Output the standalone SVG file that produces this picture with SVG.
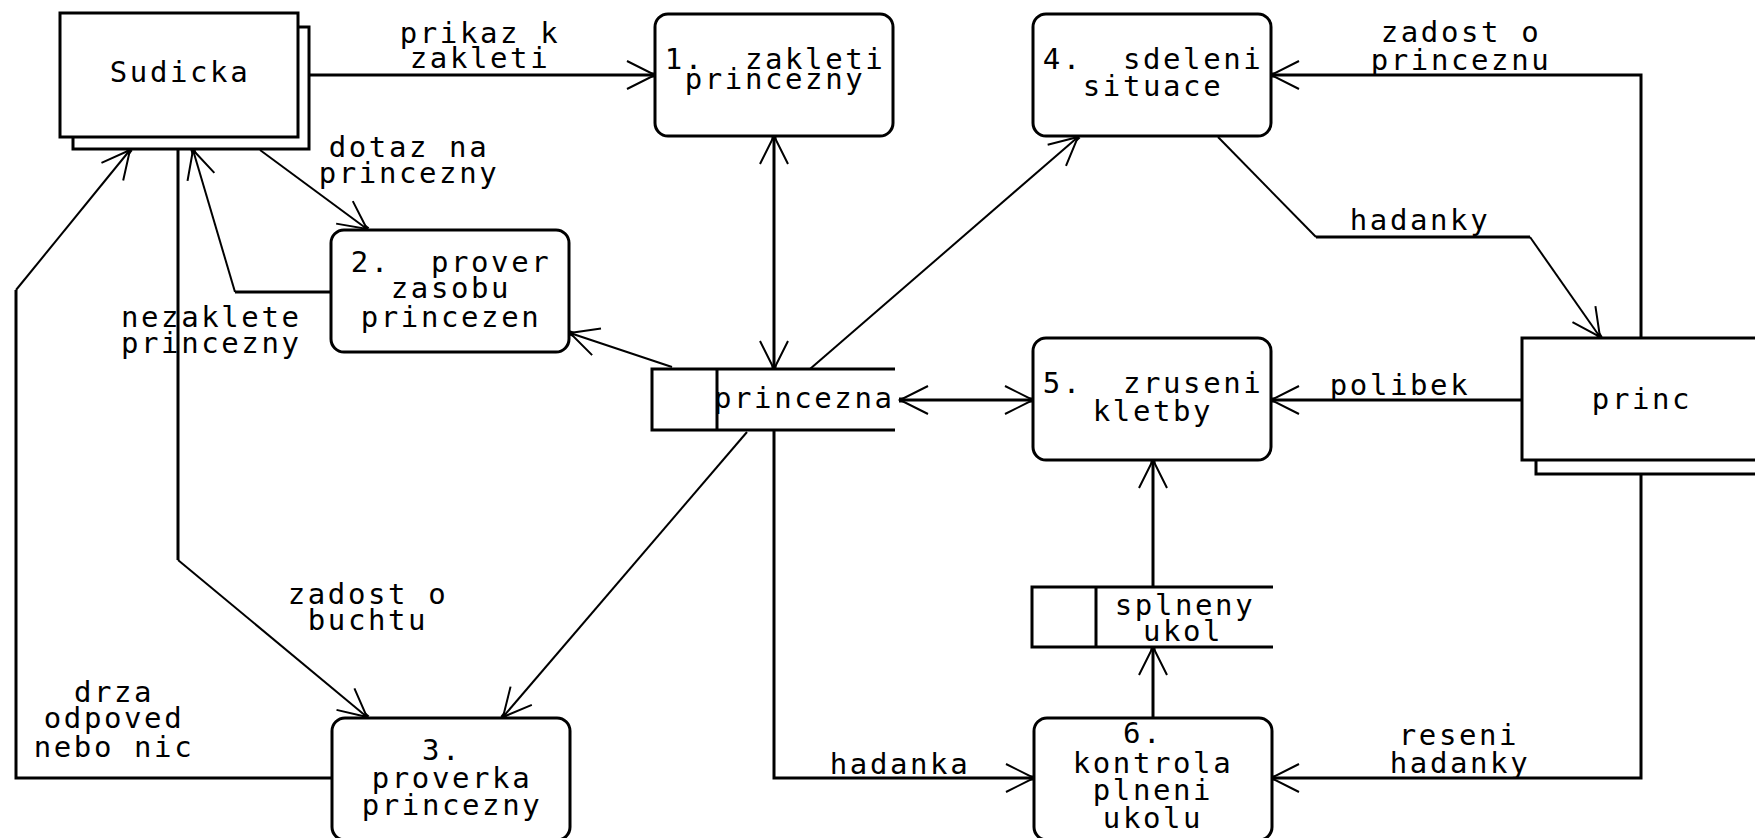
<svg xmlns="http://www.w3.org/2000/svg" width="1755" height="838" viewBox="0 0 1755 838">
  <defs>
    <style>
      .box { fill: #fff; stroke: #000; stroke-width: 3; }
      .ln { fill: none; stroke: #000; stroke-width: 3; }
      .dg { fill: none; stroke: #000; stroke-width: 2; }
      .st { fill: none; stroke: #000; stroke-width: 3; }
      text { font-family: "DejaVu Sans Mono", "Liberation Mono", monospace; font-size: 29px; letter-spacing: 2.6px; fill: #000; }
      .c { text-anchor: middle; }
      .a { marker-end: url(#arr); }
      .b { marker-start: url(#arr); marker-end: url(#arr); }
    </style>
    <!-- open chevron arrowhead with a heavy tip -->
    <marker id="arr" markerUnits="userSpaceOnUse" orient="auto-start-reverse" markerWidth="40" markerHeight="40" refX="0" refY="0" viewBox="-30 -20 40 40" overflow="visible">
      <path d="M-28,-14 L0,0 L-28,14" fill="none" stroke="#000" stroke-width="2"/>
      <rect x="-4" y="-2.5" width="5" height="5" fill="#000"/>
    </marker>
  </defs>

  <rect width="1755" height="838" fill="#fff"/>

  <!-- data flows -->
  <g id="connectors">
    <path class="ln a" d="M309,75 H655"/>
    <path class="dg a" d="M260,150 L367,229"/>
    <path class="ln" d="M331,292 H235"/>
    <path class="dg a" d="M235,292 L193,150"/>
    <path class="ln" d="M178,149 V560"/>
    <path class="dg a" d="M178,560 L367,717"/>
    <path class="ln" d="M332,778 H16 V290"/>
    <path class="dg a" d="M16,290 L130,150"/>
    <path class="ln b" d="M774,136 V369"/>
    <path class="dg a" d="M810,369 L1078,137"/>
    <path class="dg a" d="M672,367 L570,333"/>
    <path class="dg a" d="M747,432 L503,717"/>
    <path class="ln b" d="M900,400 H1033"/>
    <path class="ln a" d="M774,430 V778 H1034"/>
    <path class="ln a" d="M1641,338 V75 H1271"/>
    <path class="dg" d="M1218,137 L1316,237"/>
    <path class="ln" d="M1316,237 H1530"/>
    <path class="dg a" d="M1530,237 L1600,337"/>
    <path class="ln a" d="M1522,400 H1271"/>
    <path class="ln a" d="M1641,474 V778 H1271"/>
    <path class="ln a" d="M1153,718 V647"/>
    <path class="ln a" d="M1153,587 V460"/>
  </g>

  <!-- flow labels -->
  <g id="labels">
    <text class="c" x="480" y="43" xml:space="preserve">prikaz k</text>
    <text class="c" x="480" y="68">zakleti</text>
    <text class="c" x="409" y="157" xml:space="preserve">dotaz na</text>
    <text class="c" x="409" y="183">princezny</text>
    <text x="121" y="327">nezaklete</text>
    <text x="121" y="353">princezny</text>
    <text class="c" x="368" y="604" xml:space="preserve">zadost o</text>
    <text class="c" x="368" y="630">buchtu</text>
    <text class="c" x="114" y="702">drza</text>
    <text class="c" x="114" y="728">odpoved</text>
    <text class="c" x="114" y="757" xml:space="preserve">nebo nic</text>
    <text class="c" x="900" y="774">hadanka</text>
    <text class="c" x="1461" y="42" xml:space="preserve">zadost o</text>
    <text class="c" x="1461" y="70">princeznu</text>
    <text class="c" x="1420" y="230">hadanky</text>
    <text class="c" x="1400" y="395">polibek</text>
    <text class="c" x="1459" y="745">reseni</text>
    <text class="c" x="1460" y="773">hadanky</text>
  </g>

  <!-- external entity: Sudicka -->
  <g id="sudicka">
    <rect class="box" x="73" y="27" width="236" height="122"/>
    <rect class="box" x="60" y="13" width="238" height="124"/>
    <text class="c" x="180" y="82">Sudicka</text>
  </g>

  <!-- external entity: princ -->
  <g id="princ">
    <rect class="box" x="1536" y="352" width="238" height="122"/>
    <rect class="box" x="1522" y="338" width="238" height="122"/>
    <text class="c" x="1642" y="409">princ</text>
  </g>

  <g id="p1">
    <rect class="box" x="655" y="14" width="238" height="122" rx="13"/>
    <text class="c" x="775" y="69" xml:space="preserve">1.  zakleti</text>
    <text class="c" x="775" y="89">princezny</text>
  </g>

  <g id="p2">
    <rect class="box" x="331" y="230" width="238" height="122" rx="13"/>
    <text class="c" x="451" y="272" xml:space="preserve">2.  prover</text>
    <text class="c" x="451" y="298">zasobu</text>
    <text class="c" x="451" y="327">princezen</text>
  </g>

  <g id="p3">
    <rect class="box" x="332" y="718" width="238" height="122" rx="13"/>
    <text class="c" x="452" y="760" xml:space="preserve">3. </text>
    <text class="c" x="452" y="788">proverka</text>
    <text class="c" x="452" y="815">princezny</text>
  </g>

  <g id="p4">
    <rect class="box" x="1033" y="14" width="238" height="122" rx="13"/>
    <text class="c" x="1153" y="69" xml:space="preserve">4.  sdeleni</text>
    <text class="c" x="1153" y="96">situace</text>
  </g>

  <g id="p5">
    <rect class="box" x="1033" y="338" width="238" height="122" rx="13"/>
    <text class="c" x="1153" y="393" xml:space="preserve">5.  zruseni</text>
    <text class="c" x="1153" y="421">kletby</text>
  </g>

  <g id="p6">
    <rect class="box" x="1034" y="718" width="238" height="122" rx="13"/>
    <text class="c" x="1153" y="743" xml:space="preserve">6. </text>
    <text class="c" x="1153" y="773">kontrola</text>
    <text class="c" x="1153" y="800">plneni</text>
    <text class="c" x="1153" y="828">ukolu</text>
  </g>

  <!-- data store: princezna -->
  <g id="store-princezna">
    <rect x="652" y="369" width="243" height="61" fill="#fff"/>
    <path class="st" d="M895,369 H652 V430 H895 M717,369 V430"/>
    <text x="714" y="408">princezna</text>
  </g>

  <!-- data store: splneny ukol -->
  <g id="store-splneny">
    <rect x="1032" y="587" width="241" height="60" fill="#fff"/>
    <path class="st" d="M1273,587 H1032 V647 H1273 M1096,587 V647"/>
    <text class="c" x="1185" y="615">splneny</text>
    <text class="c" x="1183" y="641">ukol</text>
  </g>
</svg>
